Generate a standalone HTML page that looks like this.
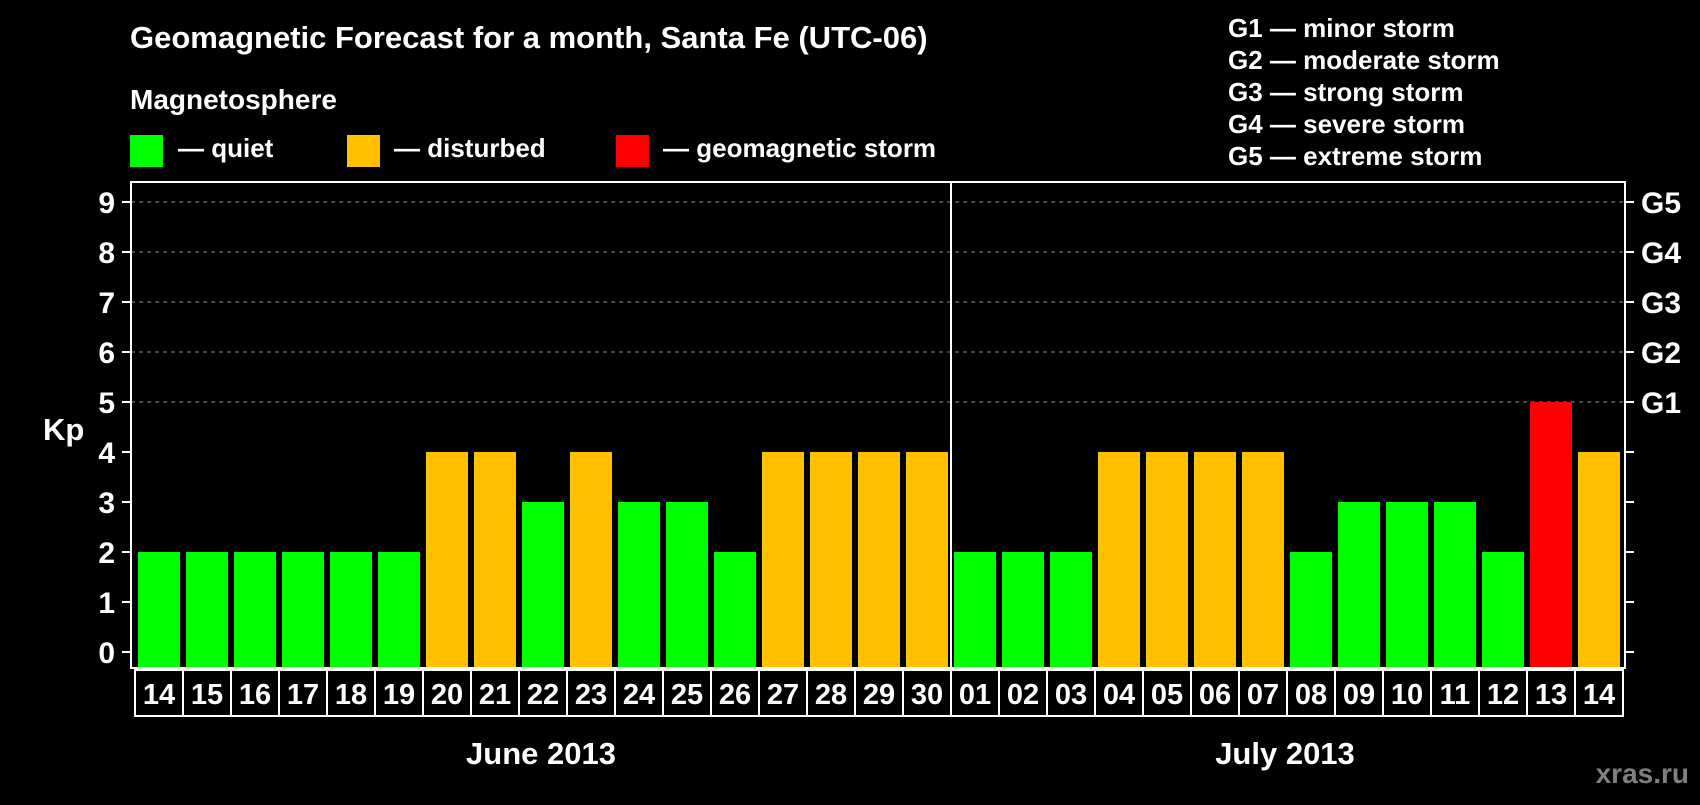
<!DOCTYPE html>
<html><head><meta charset="utf-8"><style>
body{margin:0;background:#000;width:1700px;height:800px;overflow:hidden;font-family:"Liberation Sans",sans-serif;}
svg text{font-family:"Liberation Sans",sans-serif;font-weight:bold;fill:#fff;}
</style></head><body>
<svg id="chart" width="1700" height="800">
<text x="130" y="48" font-size="31">Geomagnetic Forecast for a month, Santa Fe (UTC-06)</text>
<text x="130" y="109" font-size="28">Magnetosphere</text>
<rect x="130" y="135" width="33" height="32" fill="#00ff00"/>
<text x="178" y="157" font-size="26">— quiet</text>
<rect x="347" y="135" width="33" height="32" fill="#ffc000"/>
<text x="394" y="157" font-size="26">— disturbed</text>
<rect x="616" y="135" width="33" height="32" fill="#ff0000"/>
<text x="663" y="157" font-size="26">— geomagnetic storm</text>
<g font-size="26">
<text x="1228" y="37">G1 — minor storm</text>
<text x="1228" y="69">G2 — moderate storm</text>
<text x="1228" y="101">G3 — strong storm</text>
<text x="1228" y="133">G4 — severe storm</text>
<text x="1228" y="165">G5 — extreme storm</text>
</g>
<text x="43" y="440" font-size="31">Kp</text>
<text x="541" y="764" font-size="31" text-anchor="middle">June 2013</text>
<text x="1285" y="764" font-size="31" text-anchor="middle">July 2013</text>
<text x="1689" y="783" font-size="28" text-anchor="end" style="fill:#808080">xras.ru</text>
<g id="plot"></g>
</svg>
<script>
const days = ["14","15","16","17","18","19","20","21","22","23","24","25","26","27","28","29","30","01","02","03","04","05","06","07","08","09","10","11","12","13","14"];
const kp = [2,2,2,2,2,2,4,4,3,4,3,3,2,4,4,4,4,2,2,2,4,4,4,4,2,3,3,3,2,5,4];
const yTicks = [0,1,2,3,4,5,6,7,8,9];
const gLabels = ["G1","G2","G3","G4","G5"];
const gLevels = [5,6,7,8,9];
const monthSplit = 17;

const L=131,R=1625,T=182,B=668,Y0=652,UNIT=50,PITCH=48,BW=42,X0=138;
const y = v => Y0 - v*UNIT;
const x = i => X0 + i*PITCH;
const ns="http://www.w3.org/2000/svg";
const g=document.getElementById('plot');
function mk(t,a){const e=document.createElementNS(ns,t);for(const k in a)e.setAttribute(k,a[k]);g.appendChild(e);return e;}
function color(v){return v>=5?"#ff0000":v>=4?"#ffc000":"#00ff00";}

yTicks.forEach(v=>{
  if(v>=5){const l=mk('line',{x1:L,x2:R,y1:y(v),y2:y(v),stroke:'#888','stroke-dasharray':'4,4','stroke-width':1});
  
  }
  const t=mk('line',{x1:122,x2:L,y1:y(v),y2:y(v),stroke:'#fff','stroke-width':2});
  
  
  const t2=mk('line',{x1:R,x2:1634,y1:y(v),y2:y(v),stroke:'#fff','stroke-width':2});
  
  
  const tx=mk('text',{x:115,y:y(v)+11,'font-size':30,'text-anchor':'end'});
  tx.textContent=v;
  
  
});
gLevels.forEach((v,i)=>{
  const tx=mk('text',{x:1641,y:y(v)+11,'font-size':30});
  tx.textContent=gLabels[i];
  
  
});
kp.forEach((v,i)=>{
  const r=mk('rect',{x:x(i),y:y(v),width:BW,height:B-y(v),fill:color(v)});
  
  
});
const fr=mk('rect',{x:L,y:T,width:R-L,height:B-T,fill:'none',stroke:'#fff','stroke-width':2});


const dv=mk('line',{x1:x(monthSplit)-3,x2:x(monthSplit)-3,y1:T,y2:B,stroke:'#fff','stroke-width':2});


const db=mk('rect',{x:135,y:670,width:1488,height:46,fill:'none',stroke:'#fff','stroke-width':2});


days.forEach((d,i)=>{
  if(i>0){const s=mk('line',{x1:x(i)-3,x2:x(i)-3,y1:670,y2:716,stroke:'#fff','stroke-width':2});
  
  }
  const t=mk('text',{x:x(i)+BW/2,y:704,'font-size':29,'text-anchor':'middle'});
  t.textContent=d;
  
  
});
</script>
</body></html>
